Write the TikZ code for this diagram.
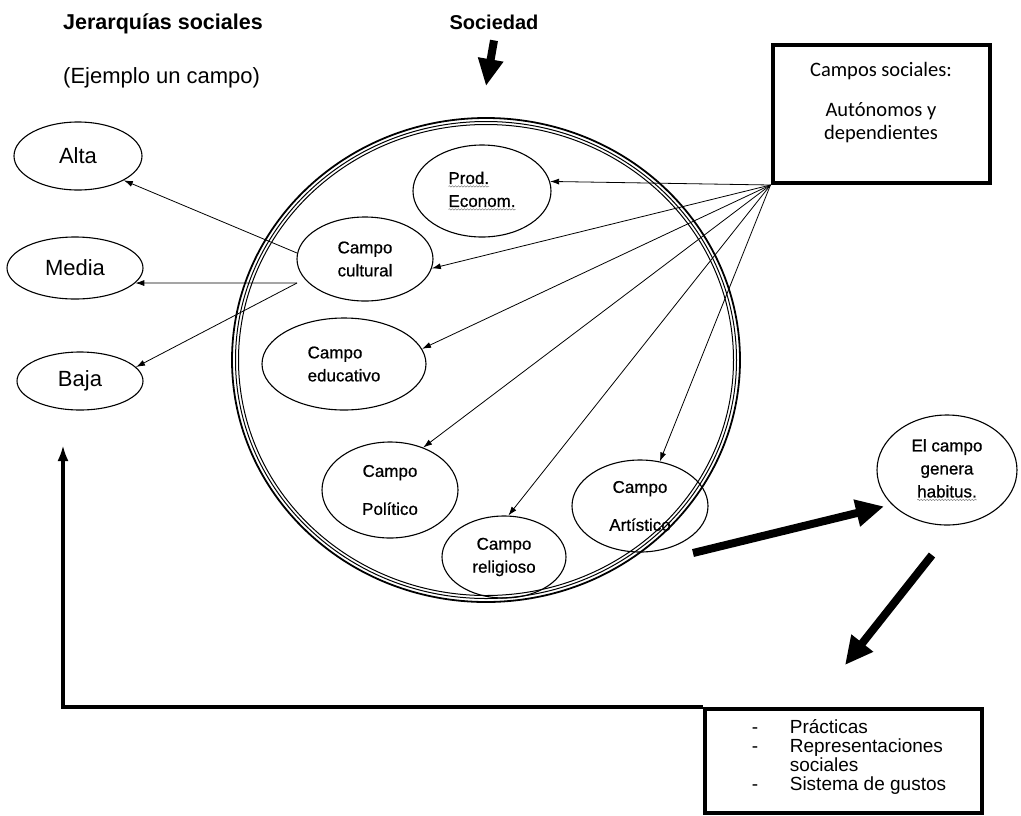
\documentclass[tikz,border=0pt]{standalone}
\usepackage{fontspec}
\setmainfont{Liberation Sans}
\newfontfamily\calib{Carlito}
\newfontfamily\arialdark[FakeBold=0.7]{Liberation Sans}
\usetikzlibrary{arrows.meta,shapes.geometric,decorations.pathmorphing}
\newcommand\squig[1]{\tikz[baseline=(w.base)]{\node[shape=rectangle,draw=none,minimum width=0pt,minimum height=0pt,inner sep=0pt,outer sep=0pt](w){#1};\draw[gray,line width=0.5pt,decorate,decoration={snake,amplitude=0.7pt,segment length=3pt}]([yshift=-2.5pt]w.base west)--([yshift=-2.5pt]w.base east);}}
\begin{document}
\begin{tikzpicture}[x=1pt,y=-1pt,
  ell/.style={draw,ellipse,line width=1.1pt,inner sep=0pt,align=center,font=\arialdark\fontsize{17}{23}\selectfont},
  hier/.style={draw,ellipse,line width=1.1pt,inner sep=0pt,font=\fontsize{22}{26}\selectfont},
  ring/.style={draw,ellipse,inner sep=0pt},
  fan/.style={-{Latex[length=9pt,width=6pt]},line width=0.8pt},
  big/.style={line width=8pt,-{Triangle[length=28pt,width=26pt]}},
  thickbox/.style={draw,line width=4pt,inner sep=0pt}]
\useasboundingbox (0,0) rectangle (1021,815);

% titles
\node[anchor=base west,inner sep=0pt,font=\bfseries\fontsize{21.5}{24}\selectfont] (jer) at (63,29) {Jerarquías sociales};
\node[anchor=base west,inner sep=0pt,font=\fontsize{22}{24}\selectfont] (ej) at (63,83) {(Ejemplo un campo)};
\node[anchor=base,inner sep=0pt,font=\bfseries\fontsize{20}{24}\selectfont] (soc) at (494,29) {Sociedad};

% big triple ring
\node[ring,line width=1.8pt,minimum width=508pt,minimum height=484pt] (ring1) at (486,360) {};
\node[ring,line width=1pt,minimum width=501pt,minimum height=477pt] (ring2) at (486,360) {};
\node[ring,line width=1pt,minimum width=495pt,minimum height=471pt] (ring3) at (486,360) {};

% hierarchy ellipses
\node[hier,minimum width=128pt,minimum height=68pt] (alta) at (78,156) {Alta};
\node[hier,minimum width=136pt,minimum height=62pt] (media) at (75,268) {Media};
\node[hier,minimum width=126pt,minimum height=58pt] (baja) at (80,381) {Baja};

% fields
\node[ell,minimum width=138pt,minimum height=92pt,align=left] (prod) at (482,191) {\squig{Prod.}\\\squig{Econom.}};
\node[ell,minimum width=136pt,minimum height=84pt,align=left] (cult) at (365,259) {Campo\\cultural};
\node[ell,minimum width=164pt,minimum height=92pt,align=left] (edu) at (344,364) {Campo\\educativo};
\node[ell,minimum width=136pt,minimum height=96pt] (pol) at (390,490) {Campo\\[15pt]Político};
\node[ell,minimum width=124pt,minimum height=82pt] (rel) at (504,557) {Campo\\religioso};
\node[ell,minimum width=136pt,minimum height=92pt] (art) at (640,506) {Campo\\[15pt]Artístico};
\node[ell,minimum width=140pt,minimum height=110pt] (hab) at (947,470) {El campo\\genera\\\squig{habitus.}};

% campos sociales box
\node[thickbox,minimum width=217pt,minimum height=138pt] (cs) at (881,114) {};
\node[inner sep=0pt,align=center,font=\calib\fontsize{20.5}{23}\selectfont] (cstx) at (881,103) {Campos sociales:\\[17pt]Autónomos y\\dependientes};

% bottom box
\node[thickbox,minimum width=277pt,minimum height=104pt] (bot) at (843.5,761) {};
\node[inner sep=0pt,align=left,font=\fontsize{19}{19.3}\selectfont] (bottx) at (849,757)
  {\makebox[38pt][l]{-}Prácticas\\\makebox[38pt][l]{-}Representaciones\\\hspace*{38pt}sociales\\\makebox[38pt][l]{-}Sistema de gustos};

% fan arrows
\draw[fan] (cs.south west) -- (prod.8);
\draw[fan] (cs.south west) -- (cult.-8);
\draw[fan] (cs.south west) -- (edu.11);
\draw[fan] (cs.south west) -- (pol.52);
\draw[fan] (cs.south west) -- (rel.84);
\draw[fan] (cs.south west) -- (art.66);

% hierarchy arrows
\coordinate (split) at (297,283);
\draw[fan] (cult.175) -- (alta.-28);
\draw[fan] (split) -- (media.-14);
\draw[fan] (split) -- (baja.14);

% thick arrows
\draw[big,-{Triangle[length=27pt,width=24pt]}] ([yshift=-11pt]soc.south) -- (ring1.north |- 0,86);
\coordinate (h1) at (693,553);
\draw[big,shorten >=8pt] (h1) -- (hab.212);
\coordinate (h2a) at (932,555);
\coordinate (h2b) at (845,665);
\draw[big] (h2a) -- (h2b);

% feedback line
\coordinate (fb) at (63,445);
\draw[line width=3.5pt,-{Latex[length=16pt,width=11pt]}] (bot.north west) -| (fb);
\end{tikzpicture}
\end{document}
